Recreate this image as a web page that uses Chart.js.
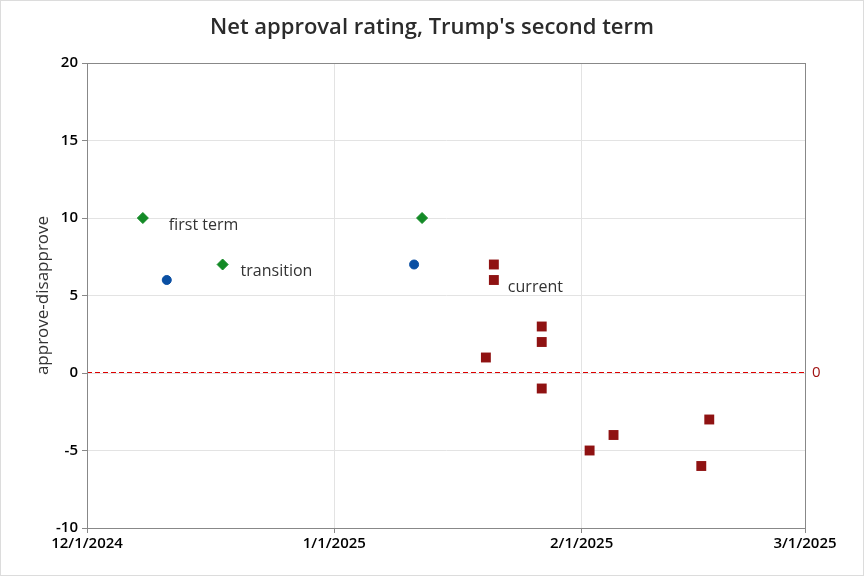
<!DOCTYPE html>
<html>
<head>
<meta charset="utf-8">
<script src="https://cdn.jsdelivr.net/npm/chart.js@4"></script>
<style>
  body { margin: 0; background: #fff; }
</style>
</head>
<body>
<canvas id="approvalChart" width="864" height="576"></canvas>
<script>
// Data
const firstTermDates = ["2024-12-08", "2024-12-18", "2025-01-12"];
const firstTermValues = [10, 7, 10];

const transitionDates = ["2024-12-11", "2025-01-11"];
const transitionValues = [6, 7];

const currentDates = ["2025-01-21", "2025-01-21", "2025-01-20", "2025-01-27", "2025-01-27",
  "2025-01-27", "2025-02-02", "2025-02-05", "2025-02-16", "2025-02-17"];
const currentValues = [7, 6, 1, 3, 2, -1, -5, -4, -6, -3];

const xTickDates = ["2024-12-01", "2025-01-01", "2025-02-01", "2025-03-01"];
const xTickLabels = ["12/1/2024", "1/1/2025", "2/1/2025", "3/1/2025"];
const yTicks = [-10, -5, 0, 5, 10, 15, 20];
const zeroLine = 0;

// days since 12/1/2024
const START = Date.UTC(2024, 11, 1);
function dayOf(s) {
  const p = s.split("-").map(Number);
  return (Date.UTC(p[0], p[1] - 1, p[2]) - START) / 86400000;
}
function toPoints(dates, values) {
  return dates.map((d, i) => ({ x: dayOf(d), y: values[i] }));
}
const xTickDays = xTickDates.map(dayOf);

// Text labels next to the points (anchor point + pixel offset)
const notes = [
  { text: "first term", x: dayOf("2024-12-08"), y: 10, dx: 26, dy: 7 },
  { text: "transition", x: dayOf("2024-12-18"), y: 7, dx: 18, dy: 7 },
  { text: "current", x: dayOf("2025-01-21"), y: 6, dx: 14, dy: 7 },
];

const FONT = "'Open Sans', 'Noto Sans', sans-serif";

const extrasPlugin = {
  id: "extras",
  beforeDraw(chart) {
    const c = chart.ctx;
    c.save();
    c.fillStyle = "#fff";
    c.fillRect(0, 0, chart.width, chart.height);
    c.restore();
  },
  beforeDatasetsDraw(chart) {
    // dashed reference line at 0
    const c = chart.ctx;
    const a = chart.chartArea;
    const y0 = Math.round(chart.scales.y.getPixelForValue(zeroLine)) - 0.5;
    c.save();
    c.strokeStyle = "#dd0000";
    c.lineWidth = 1;
    c.setLineDash([5, 3]);
    c.beginPath();
    c.moveTo(a.left, y0);
    c.lineTo(a.right, y0);
    c.stroke();
    c.restore();
  },
  afterDraw(chart) {
    const c = chart.ctx;
    const a = chart.chartArea;
    const xs = chart.scales.x;
    const ys = chart.scales.y;
    c.save();
    // plot box
    c.strokeStyle = "#888";
    c.lineWidth = 1;
    c.strokeRect(a.left + 0.5, a.top + 0.5, a.right - a.left, a.bottom - a.top);
    // outer frame
    c.strokeStyle = "#dcdcdc";
    c.strokeRect(0.5, 0.5, chart.width - 1, chart.height - 1);

    // title
    c.fillStyle = "#2b2b2b";
    c.font = "600 22px " + FONT;
    c.textAlign = "center";
    c.textBaseline = "middle";
    c.fillText("Net approval rating, Trump's second term", 432, 28);

    // y axis title
    c.save();
    c.translate(43, (a.top + a.bottom) / 2);
    c.rotate(-Math.PI / 2);
    c.fillStyle = "#333";
    c.font = "17px " + FONT;
    c.fillText("approve-disapprove", 0, 0);
    c.restore();

    // point labels
    c.font = "16px " + FONT;
    c.textAlign = "left";
    c.fillStyle = "#333";
    notes.forEach((n) => {
      c.fillText(n.text, xs.getPixelForValue(n.x) + n.dx, ys.getPixelForValue(n.y) + n.dy);
    });

    // zero line label
    c.fillStyle = "#a01212";
    c.font = "15px " + FONT;
    c.fillText(String(zeroLine), a.right + 7, ys.getPixelForValue(zeroLine));
    c.restore();
  },
};

const ctx = document.getElementById("approvalChart").getContext("2d");
const approvalChart = new Chart(ctx, {
  type: "scatter",
  data: {
    datasets: [
      {
        label: "first term",
        data: toPoints(firstTermDates, firstTermValues),
        pointStyle: "rectRot",
        pointRadius: 5.5,
        backgroundColor: "#138a26",
        borderColor: "#138a26",
        borderWidth: 1,
      },
      {
        label: "transition",
        data: toPoints(transitionDates, transitionValues),
        pointStyle: "circle",
        pointRadius: 4.5,
        backgroundColor: "#0a4fa3",
        borderColor: "#0a4fa3",
        borderWidth: 1,
      },
      {
        label: "current",
        data: toPoints(currentDates, currentValues),
        pointStyle: "rect",
        pointRadius: 7,
        backgroundColor: "#8f1212",
        borderColor: "#8f1212",
        borderWidth: 0,
      },
    ],
  },
  options: {
    responsive: false,
    animation: false,
    devicePixelRatio: 1,
    layout: { padding: { left: 0, right: 59, top: 63, bottom: 0 } },
    plugins: {
      legend: { display: false },
      tooltip: { enabled: false },
      title: { display: false },
    },
    scales: {
      x: {
        type: "linear",
        min: xTickDays[0],
        max: xTickDays[3],
        afterBuildTicks: (scale) => {
          scale.ticks = xTickDays.map((v) => ({ value: v }));
        },
        afterFit: (scale) => { scale.height = 48; },
        ticks: {
          callback: (v) => xTickLabels[xTickDays.indexOf(v)],
          color: "#000",
          font: { family: FONT, size: 15, weight: "600" },
          padding: 2,
          maxRotation: 0,
          autoSkip: false,
        },
        grid: { color: "#e3e3e3", tickColor: "#888", tickLength: 5 },
        border: { color: "#888" },
      },
      y: {
        min: yTicks[0],
        max: yTicks[yTicks.length - 1],
        afterBuildTicks: (scale) => {
          scale.ticks = yTicks.map((v) => ({ value: v }));
        },
        afterFit: (scale) => { scale.width = 87; },
        ticks: {
          color: "#000",
          font: { family: FONT, size: 15, weight: "600" },
          padding: 4,
        },
        grid: { color: "#e3e3e3", tickColor: "#888", tickLength: 5 },
        border: { color: "#888" },
      },
    },
  },
  plugins: [extrasPlugin],
});
</script>
</body>
</html>
